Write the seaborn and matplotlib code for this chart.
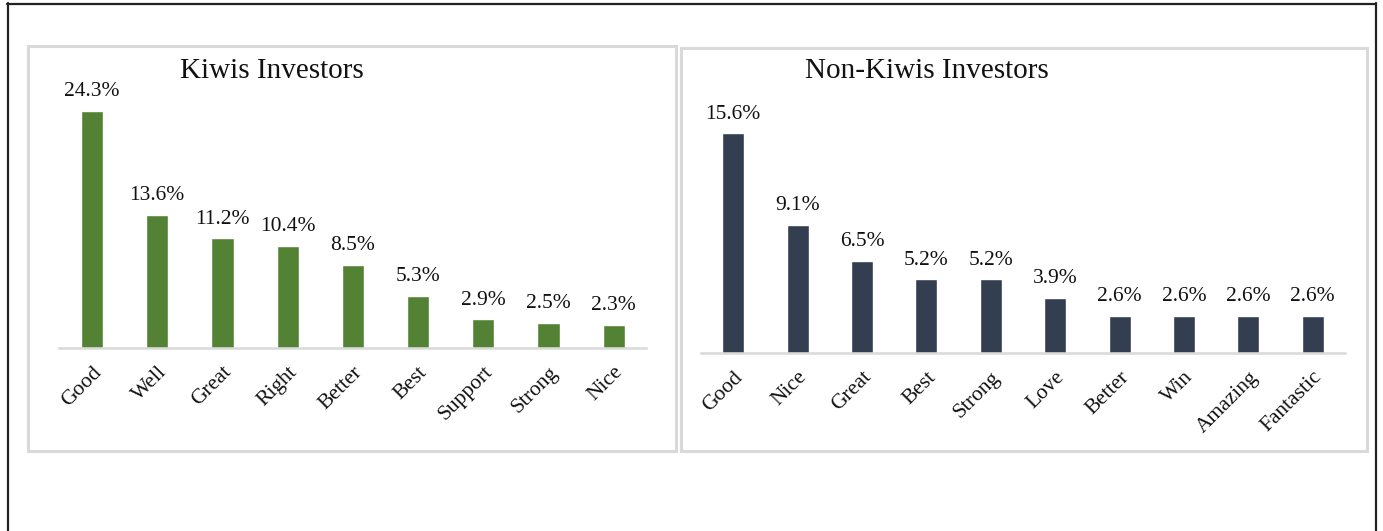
import matplotlib
matplotlib.use("Agg")
import matplotlib.pyplot as plt
import seaborn as sns
import pandas as pd
from matplotlib.patches import Rectangle
from matplotlib.lines import Line2D

# ---- data ----
kiwi_words = ["Good", "Well", "Great", "Right", "Better", "Best", "Support", "Strong", "Nice"]
kiwi_vals = [24.3, 13.6, 11.2, 10.4, 8.5, 5.3, 2.9, 2.5, 2.3]
kiwi_title = "Kiwis Investors"

non_words = ["Good", "Nice", "Great", "Best", "Strong", "Love", "Better", "Win", "Amazing", "Fantastic"]
non_vals = [15.6, 9.1, 6.5, 5.2, 5.2, 3.9, 2.6, 2.6, 2.6, 2.6]
non_title = "Non-Kiwis Investors"

GREEN = "#548235"
NAVY = "#333F50"
GRID = "#D9D9D9"

sns.set_theme(style="white")
plt.rcParams["font.family"] = ["Liberation Serif", "DejaVu Serif"]

W, H = 1383, 531
fig = plt.figure(figsize=(W / 100, H / 100), dpi=100)


def fx(x):
    return x / W


def fy(y):
    return 1 - y / H


def add_axes(left, right, top, bottom):
    return fig.add_axes([fx(left), fy(bottom), fx(right) - fx(left), fy(top) - fy(bottom)])


# outer black frame (top, left, right)
for (x0, y0, x1, y1) in [(7, 3.5, 1376, 3.5), (7.5, 3, 7.5, 531), (1375.5, 3, 1375.5, 531)]:
    fig.add_artist(Line2D([fx(x0), fx(x1)], [fy(y0), fy(y1)], transform=fig.transFigure,
                          color="#222222", lw=1.6))

# panel frames
for (x0, y0, x1, y1) in [(28, 46, 676, 451), (681, 48, 1367, 451)]:
    fig.add_artist(Rectangle((fx(x0), fy(y1)), fx(x1) - fx(x0), fy(y0) - fy(y1),
                             transform=fig.transFigure, fill=False, edgecolor=GRID, lw=2.2))


def panel(ax, words, vals, color, ymax, title, title_x):
    df = pd.DataFrame({"word": words, "val": vals})
    sns.barplot(data=df, x="word", y="val", color=color, saturation=1, width=0.34, ax=ax)
    ax.set_xlim(-0.5, len(words) - 0.5)
    ax.set_ylim(0, ymax)
    ax.set_xlabel("")
    ax.set_ylabel("")
    ax.set_yticks([])
    for s in ["top", "left", "right"]:
        ax.spines[s].set_visible(False)
    ax.spines["bottom"].set_color(GRID)
    ax.spines["bottom"].set_linewidth(1.8)
    ax.tick_params(axis="x", length=0, pad=11)
    for lab in ax.get_xticklabels():
        lab.set_rotation(45)
        lab.set_ha("right")
        lab.set_rotation_mode("anchor")
        lab.set_fontsize(15.5)
        lab.set_color("#111111")
    for i, v in enumerate(vals):
        ax.annotate(f"{v:.1f}%", (i, v), xytext=(0, 7), textcoords="offset points",
                    ha="center", va="bottom", fontsize=15.5, color="#111111")
    fig.text(title_x, fy(71), title, ha="center", va="center", fontsize=21, color="#111111")


ax1 = add_axes(59.4, 646.3, 60, 347.5)
panel(ax1, kiwi_words, kiwi_vals, GREEN, (347.5 - 60) / 9.75, kiwi_title, fx(272))

ax2 = add_axes(701, 1345, 60, 352.5)
panel(ax2, non_words, non_vals, NAVY, (352.5 - 60) / 14.05, non_title, fx(927))

fig.savefig("out.png", dpi=100, facecolor="white")
